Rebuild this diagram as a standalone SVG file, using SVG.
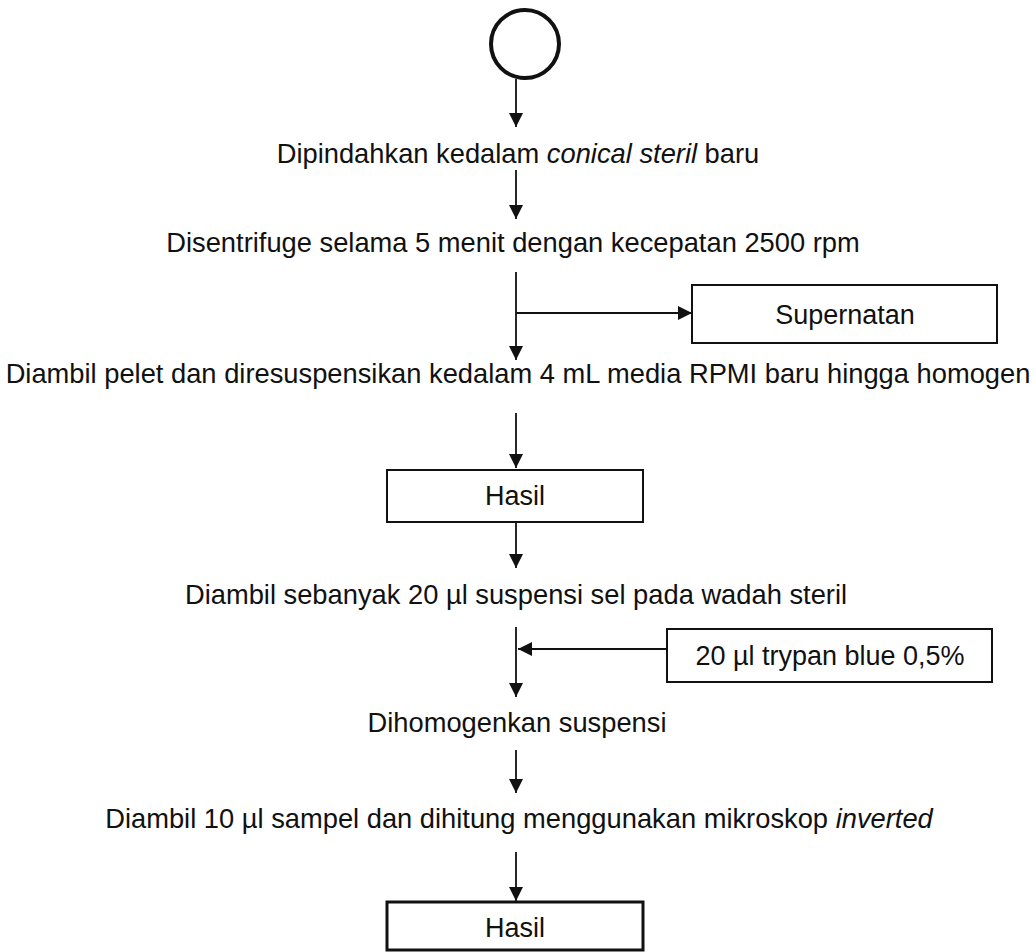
<svg xmlns="http://www.w3.org/2000/svg" width="1036" height="952" viewBox="0 0 1036 952">
  <style>
    text { font-family: "Liberation Sans", Arial, sans-serif; fill: #111; }
    .step { font-size: 27.3px; text-anchor: middle; }
    .label { font-size: 27px; text-anchor: middle; }
    .box { fill: #fff; stroke: #111; stroke-width: 2; }
    .box-end { fill: #fff; stroke: #111; stroke-width: 3; }
    .flow { fill: none; stroke: #111; stroke-width: 1.8; }
  </style>
  <defs>
    <marker id="head" viewBox="0 0 10 10" refX="10" refY="5" markerWidth="14" markerHeight="14" markerUnits="userSpaceOnUse" orient="auto">
      <path d="M0,0 L10,5 L0,10 Z" fill="#111"/>
    </marker>
  </defs>

  <rect width="1036" height="952" fill="#fff"/>

  <!-- connectors -->
  <g id="connectors">
    <line class="flow" x1="516" y1="79" x2="516" y2="127" marker-end="url(#head)"/>
    <line class="flow" x1="516" y1="170" x2="516" y2="219" marker-end="url(#head)"/>
    <line class="flow" x1="516" y1="272" x2="516" y2="360" marker-end="url(#head)"/>
    <line class="flow" x1="516" y1="313" x2="692" y2="313" marker-end="url(#head)"/>
    <line class="flow" x1="516" y1="413" x2="516" y2="468" marker-end="url(#head)"/>
    <line class="flow" x1="516" y1="522" x2="516" y2="568" marker-end="url(#head)"/>
    <line class="flow" x1="516" y1="627" x2="516" y2="697" marker-end="url(#head)"/>
    <line class="flow" x1="667" y1="649" x2="518" y2="649" marker-end="url(#head)"/>
    <line class="flow" x1="516" y1="750" x2="516" y2="793" marker-end="url(#head)"/>
    <line class="flow" x1="516" y1="852" x2="516" y2="901" marker-end="url(#head)"/>
  </g>

  <g id="start">
    <circle cx="525" cy="44" r="34" fill="#fff" stroke="#111" stroke-width="4"/>
  </g>

  <g id="step-transfer">
    <text class="step" x="518" y="163">Dipindahkan kedalam <tspan font-style="italic">conical steril</tspan> baru</text>
  </g>

  <g id="step-centrifuge">
    <text class="step" x="513" y="252">Disentrifuge selama 5 menit dengan kecepatan 2500 rpm</text>
  </g>

  <g id="supernatant">
    <rect class="box" x="692" y="285" width="305" height="58"/>
    <text class="label" x="845" y="324">Supernatan</text>
  </g>

  <g id="step-resuspend">
    <text class="step" x="518" y="383">Diambil pelet dan diresuspensikan kedalam 4 mL media RPMI baru hingga homogen</text>
  </g>

  <g id="result-1">
    <rect class="box" x="387" y="470" width="256" height="52"/>
    <text class="label" x="515" y="505">Hasil</text>
  </g>

  <g id="step-sample">
    <text class="step" x="516" y="604">Diambil sebanyak 20 µl suspensi sel pada wadah steril</text>
  </g>

  <g id="trypan-blue">
    <rect class="box" x="667" y="629" width="325" height="53"/>
    <text class="label" x="830" y="665">20 µl trypan blue 0,5%</text>
  </g>

  <g id="step-homogenise">
    <text class="step" x="517" y="732">Dihomogenkan suspensi</text>
  </g>

  <g id="step-count">
    <text class="step" x="519" y="828">Diambil 10 µl sampel dan dihitung menggunakan mikroskop <tspan font-style="italic">inverted</tspan></text>
  </g>

  <g id="result-2">
    <rect class="box-end" x="387" y="902" width="256" height="48"/>
    <text class="label" x="515" y="937">Hasil</text>
  </g>
</svg>
